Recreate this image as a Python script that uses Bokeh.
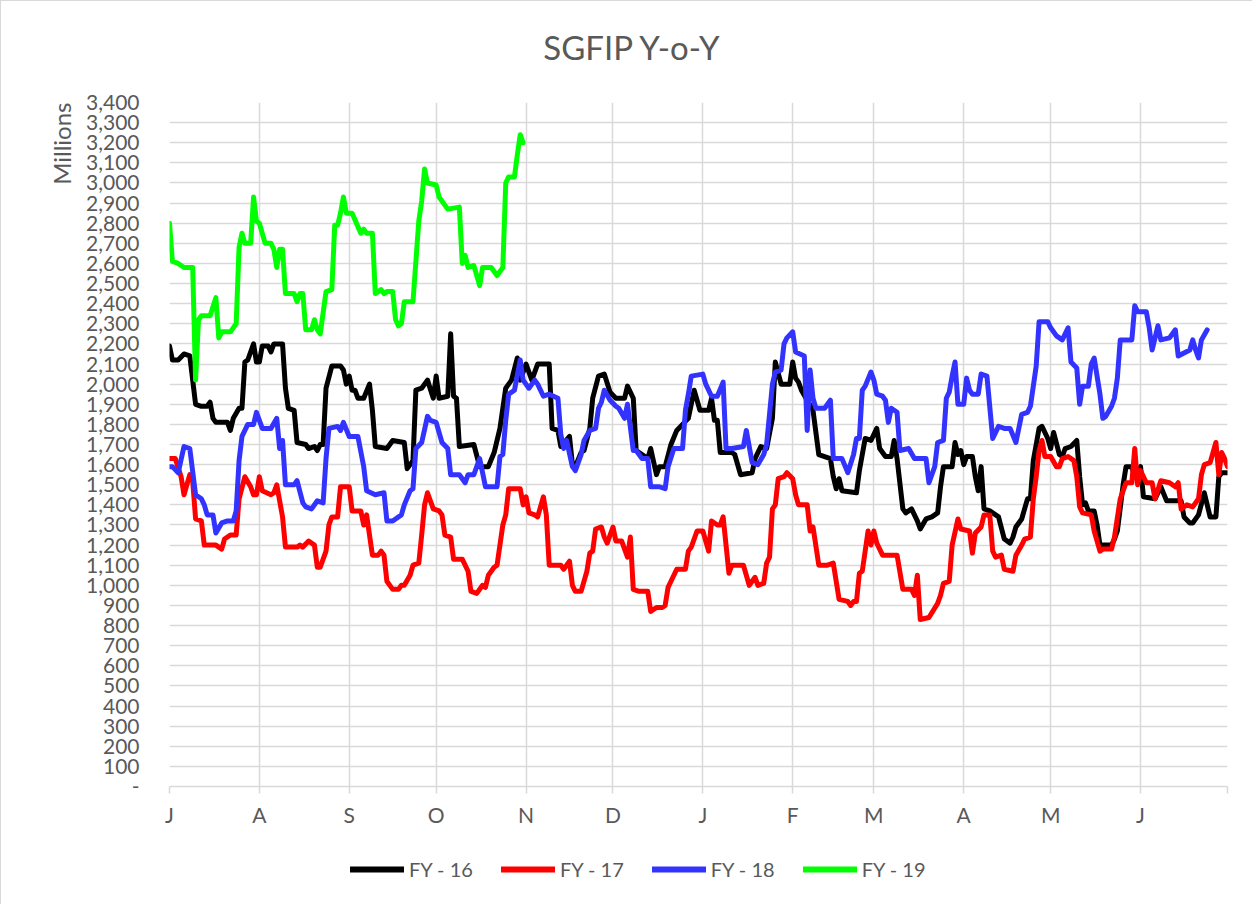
from bokeh.plotting import figure
from bokeh.layouts import column
from bokeh.models import (Range1d, FixedTicker, NumeralTickFormatter, Legend,
                          LegendItem, Title, Label)
from bokeh.embed import file_html
from bokeh.resources import INLINE

# ---------------- data (day of fiscal year, value in millions) ----------------
month_ticks = [0, 31, 62, 92, 123, 153, 184, 215, 243, 274, 304, 335, 365]
month_labels = ["J", "A", "S", "O", "N", "D", "J", "F", "M", "A", "M", "J", ""]

fy16_days = [0, 1, 3, 5, 7, 9, 11, 13, 14, 15, 16, 20, 21, 22, 24, 25, 26, 27, 29, 30,
             31, 32, 34, 35, 36, 39, 40, 41, 43, 44, 47, 48, 50, 51, 52, 53, 54, 56, 59, 60,
             61, 62, 63, 64, 65, 67, 69, 70, 71, 75, 77, 81, 82, 84, 85, 87, 89, 91, 92, 93,
             96, 97, 98, 99, 100, 105, 107, 110, 112, 114, 116, 118, 120, 121, 123, 125, 127,
             131, 132, 134, 135, 138, 139, 140, 142, 143, 145, 146, 148, 150, 152, 154, 157,
             158, 160, 161, 163, 165, 166, 168, 169, 171, 173, 175, 177, 179, 181, 183, 186,
             187, 188, 189, 190, 194, 195, 197, 201, 202, 204, 206, 208, 209, 211, 214, 215,
             216, 217, 218, 222, 224, 228, 229, 230, 231, 232, 237, 238, 240, 242, 244, 245,
             247, 249, 250, 251, 253, 254, 256, 258, 259, 261, 263, 265, 266, 267, 270, 271,
             272, 273, 274, 275, 277, 278, 279, 280, 281, 283, 286, 288, 290, 291, 292, 294,
             296, 297, 298, 300, 301, 303, 304, 305, 307, 308, 309, 311, 313, 314, 315, 316,
             317, 319, 320, 321, 324, 325, 326, 327, 329, 330, 332, 333, 335, 336, 340, 342,
             344, 349, 350, 352, 353, 355, 357, 359, 361, 362, 363, 365]
fy16_vals = [2190, 2120, 2120, 2150, 2140, 1900, 1890, 1890, 1910, 1830, 1810, 1810, 1770, 1830,
             1880, 1880, 2110, 2120, 2200, 2110, 2110, 2190, 2190, 2160, 2200, 2200, 1980, 1880,
             1870, 1710, 1700, 1680, 1690, 1670, 1700, 1700, 1980, 2090, 2090, 2070, 2000, 2040,
             1970, 1970, 1930, 1930, 2000, 1870, 1690, 1680, 1720, 1710, 1580, 1620, 1970, 1980,
             2020, 1930, 2040, 1930, 1940, 2250, 1940, 1930, 1690, 1700, 1590, 1590, 1660, 1780,
             1980, 2020, 2130, 2020, 2100, 2020, 2100, 2100, 1780, 1770, 1690, 1740, 1600, 1590,
             1660, 1670, 1780, 1930, 2040, 2050, 1960, 1930, 1930, 1990, 1930, 1670, 1650, 1630,
             1680, 1550, 1590, 1590, 1700, 1770, 1800, 1830, 1970, 1870, 1870, 1930, 1820, 1820,
             1660, 1660, 1650, 1550, 1560, 1630, 1690, 1680, 1830, 2110, 2000, 2000, 2110, 2030,
             2010, 1970, 1870, 1650, 1630, 1540, 1480, 1530, 1470, 1460, 1570, 1730, 1720, 1780,
             1680, 1640, 1640, 1720, 1630, 1380, 1360, 1380, 1320, 1280, 1330, 1340, 1360, 1490,
             1590, 1590, 1710, 1650, 1670, 1600, 1640, 1640, 1540, 1470, 1590, 1380, 1370, 1340,
             1230, 1210, 1240, 1290, 1330, 1430, 1430, 1620, 1780, 1790, 1730, 1680, 1760, 1650,
             1640, 1680, 1690, 1720, 1540, 1400, 1410, 1370, 1370, 1300, 1200, 1200, 1200, 1230,
             1270, 1500, 1590, 1590, 1540, 1590, 1440, 1430, 1490, 1420, 1420, 1340, 1310, 1310,
             1350, 1460, 1340, 1340, 1540, 1560, 1560]

fy17_days = [0, 2, 4, 5, 7, 8, 9, 11, 12, 14, 16, 18, 19, 21, 23, 24, 26, 28, 29, 30, 31, 32,
             35, 36, 37, 39, 40, 44, 45, 46, 48, 50, 51, 52, 54, 55, 56, 58, 59, 61, 62, 63,
             66, 67, 68, 70, 72, 73, 74, 75, 77, 79, 80, 81, 83, 84, 86, 87, 88, 89, 91, 93,
             94, 95, 97, 98, 101, 103, 104, 106, 108, 109, 110, 112, 113, 115, 116, 117, 121,
             122, 123, 124, 126, 127, 129, 130, 131, 135, 136, 138, 139, 140, 142, 144, 145,
             146, 147, 149, 150, 151, 153, 154, 156, 158, 159, 160, 162, 165, 166, 168, 170,
             171, 172, 174, 175, 178, 179, 180, 182, 184, 186, 187, 189, 190, 191, 193, 194,
             198, 200, 202, 203, 205, 206, 207, 208, 209, 210, 212, 213, 215, 216, 217, 220,
             221, 222, 224, 227, 229, 231, 234, 235, 236, 237, 238, 239, 241, 242, 243, 244,
             246, 248, 250, 251, 253, 256, 257, 258, 259, 262, 265, 266, 267, 269, 270, 272,
             273, 276, 277, 278, 280, 281, 283, 284, 285, 287, 288, 291, 292, 294, 295, 297,
             298, 299, 300, 301, 302, 304, 306, 307, 308, 310, 312, 313, 314, 315, 318, 319,
             321, 322, 325, 326, 328, 330, 332, 333, 334, 335, 337, 339, 340, 342, 345, 347,
             348, 349, 351, 353, 355, 356, 357, 359, 361, 362, 363, 364, 365]
fy17_vals = [1630, 1630, 1540, 1450, 1550, 1520, 1330, 1320, 1200, 1200, 1200, 1180, 1230, 1250,
             1250, 1430, 1540, 1490, 1450, 1450, 1540, 1470, 1450, 1460, 1500, 1340, 1190, 1190,
             1200, 1190, 1220, 1200, 1090, 1090, 1170, 1300, 1340, 1340, 1490, 1490, 1490, 1370,
             1370, 1300, 1350, 1150, 1150, 1170, 1150, 1020, 980, 980, 1000, 1000, 1050, 1100,
             1110, 1250, 1400, 1460, 1380, 1370, 1350, 1250, 1240, 1130, 1130, 1070, 970, 960,
             1000, 990, 1050, 1090, 1100, 1300, 1350, 1480, 1480, 1400, 1440, 1360, 1350, 1340,
             1440, 1350, 1100, 1100, 1080, 1120, 1000, 970, 970, 1070, 1160, 1170, 1280, 1290,
             1240, 1210, 1290, 1220, 1220, 1140, 1240, 980, 970, 970, 870, 890, 890, 900, 990,
             1050, 1080, 1080, 1170, 1190, 1270, 1270, 1170, 1320, 1300, 1300, 1340, 1060, 1100,
             1100, 1000, 1040, 1000, 1010, 1110, 1140, 1380, 1400, 1530, 1540, 1560, 1530, 1450,
             1400, 1400, 1270, 1290, 1100, 1100, 1110, 930, 920, 900, 920, 920, 1060, 1070, 1270,
             1200, 1270, 1210, 1150, 1150, 1150, 1150, 980, 980, 950, 1050, 830, 840, 910, 950,
             1010, 1020, 1200, 1330, 1280, 1270, 1160, 1260, 1290, 1350, 1350, 1170, 1140, 1150,
             1080, 1070, 1150, 1200, 1230, 1240, 1430, 1540, 1670, 1720, 1640, 1640, 1590, 1590,
             1630, 1640, 1620, 1540, 1390, 1360, 1350, 1270, 1170, 1180, 1180, 1240, 1430, 1510,
             1510, 1680, 1500, 1570, 1510, 1510, 1430, 1520, 1510, 1490, 1510, 1380, 1400, 1390,
             1430, 1550, 1600, 1610, 1710, 1550, 1660, 1630, 1590]

fy18_days = [0, 1, 3, 5, 7, 9, 11, 12, 13, 15, 16, 18, 20, 22, 23, 24, 25, 27, 29, 30, 32, 33,
             35, 37, 38, 39, 40, 43, 44, 46, 47, 49, 51, 53, 54, 55, 58, 59, 60, 62, 65, 67, 68,
             71, 74, 75, 77, 80, 81, 83, 84, 85, 87, 89, 90, 92, 94, 96, 97, 100, 102, 103, 105,
             107, 109, 113, 114, 115, 116, 117, 119, 121, 122, 124, 126, 127, 129, 131, 134,
             135, 136, 137, 139, 140, 142, 143, 145, 147, 148, 149, 150, 152, 154, 155, 157,
             158, 160, 161, 163, 165, 166, 169, 171, 172, 174, 177, 178, 179, 180, 184, 185,
             187, 189, 191, 192, 194, 198, 199, 201, 203, 205, 206, 208, 209, 211, 212, 213,
             215, 216, 219, 220, 221, 222, 223, 226, 228, 229, 232, 234, 236, 237, 238, 239,
             240, 242, 243, 244, 246, 247, 248, 249, 251, 252, 255, 257, 261, 262, 264, 265,
             267, 268, 269, 270, 271, 272, 274, 275, 276, 277, 279, 280, 282, 284, 286, 288,
             290, 292, 294, 296, 297, 299, 300, 303, 304, 306, 308, 310, 311, 313, 314, 315,
             317, 318, 319, 321, 322, 323, 325, 326, 327, 328, 332, 333, 334, 337, 338, 339,
             341, 342, 345, 347, 348, 352, 353, 354, 355, 356, 358]
fy18_vals = [1590, 1590, 1560, 1690, 1680, 1450, 1430, 1400, 1350, 1350, 1260, 1310, 1320, 1320,
             1370, 1620, 1740, 1800, 1800, 1860, 1780, 1780, 1780, 1830, 1680, 1720, 1500, 1500,
             1520, 1410, 1390, 1380, 1420, 1410, 1630, 1780, 1790, 1770, 1810, 1740, 1740, 1590,
             1470, 1450, 1460, 1320, 1320, 1350, 1400, 1470, 1480, 1680, 1710, 1840, 1820, 1810,
             1710, 1680, 1550, 1550, 1510, 1550, 1550, 1630, 1490, 1490, 1640, 1650, 1820, 1950,
             1970, 2120, 2020, 1980, 2020, 2000, 1940, 1950, 1930, 1750, 1680, 1720, 1590, 1570,
             1650, 1720, 1770, 1780, 1880, 1910, 1970, 1920, 1890, 1880, 1830, 1900, 1670, 1670,
             1630, 1630, 1490, 1490, 1480, 1590, 1680, 1680, 1870, 1950, 2040, 2050, 2000, 1940,
             1940, 2010, 1680, 1680, 1690, 1770, 1610, 1600, 1650, 1700, 2000, 2060, 2070, 2200,
             2230, 2260, 2160, 2140, 1770, 2070, 1930, 1880, 1880, 1920, 1630, 1630, 1560, 1650,
             1730, 1730, 1970, 1990, 2060, 2020, 1950, 1940, 1920, 1810, 1880, 1860, 1670, 1680,
             1630, 1630, 1510, 1590, 1710, 1720, 1930, 1960, 2040, 2110, 1900, 1900, 2030, 1970,
             1950, 1950, 2050, 2040, 1730, 1790, 1780, 1780, 1710, 1850, 1860, 1890, 2090, 2310,
             2310, 2280, 2240, 2220, 2280, 2110, 2080, 1900, 1990, 1990, 2100, 2130, 1950, 1830,
             1840, 1890, 1930, 2030, 2220, 2220, 2390, 2360, 2360, 2280, 2170, 2290, 2220, 2230,
             2270, 2140, 2170, 2220, 2170, 2130, 2220, 2270]

fy19_days = [0, 1, 3, 5, 8, 9, 10, 11, 14, 16, 17, 18, 21, 23, 24, 25, 26, 28, 29, 30, 31, 33,
             35, 36, 37, 38, 39, 40, 43, 44, 45, 46, 47, 49, 50, 51, 52, 54, 56, 57, 58, 59, 60,
             61, 63, 66, 67, 68, 70, 71, 73, 74, 75, 77, 78, 79, 80, 81, 84, 86, 87, 88, 89, 92,
             93, 95, 96, 100, 101, 102, 103, 105, 107, 108, 111, 113, 115, 116, 117, 119, 120,
             121, 122]
fy19_vals = [2800, 2610, 2600, 2580, 2580, 2020, 2320, 2340, 2340, 2430, 2230, 2260, 2260, 2300,
             2680, 2750, 2700, 2700, 2930, 2810, 2800, 2700, 2700, 2670, 2580, 2670, 2670, 2450,
             2450, 2410, 2450, 2450, 2270, 2270, 2320, 2270, 2250, 2460, 2470, 2790, 2790, 2850,
             2930, 2850, 2850, 2750, 2770, 2750, 2750, 2450, 2470, 2450, 2460, 2460, 2320, 2290,
             2300, 2410, 2410, 2810, 2910, 3070, 3000, 2990, 2930, 2890, 2870, 2880, 2600, 2640,
             2580, 2590, 2490, 2580, 2580, 2540, 2580, 3000, 3030, 3030, 3140, 3240, 3200]

series = [
    ("FY - 16", fy16_days, fy16_vals, "#000000"),
    ("FY - 17", fy17_days, fy17_vals, "#FF0000"),
    ("FY - 18", fy18_days, fy18_vals, "#3333FF"),
    ("FY - 19", fy19_days, fy19_vals, "#00FF00"),
]

FONT = "Lato"
GREY = "#595959"
GRID = "#d9d9d9"
W = 1252
LEFT, RIGHT = 168, 26          # frame margins shared by all stacked figures


def strip(height):
    """A bare figure whose x data units are page pixels and y units are pixels from its bottom."""
    f = figure(width=W, height=height, x_range=Range1d(LEFT, W - RIGHT),
               y_range=Range1d(0, height),
               x_axis_location=None, y_axis_location=None, toolbar_location=None,
               output_backend="svg", min_border_left=LEFT, min_border_right=RIGHT,
               min_border_top=0, min_border_bottom=0)
    f.outline_line_color = None
    f.grid.visible = False
    return f


# ---------------- title strip ----------------
tf = strip(70)
tf.add_layout(Label(x=631, y=25, text="SGFIP Y-o-Y", text_align="center",
                    text_baseline="middle", text_font=FONT, text_font_size="33px",
                    text_color=GREY))

# ---------------- main chart ----------------
p = figure(width=W, height=764, x_range=Range1d(0, 365), y_range=Range1d(0, 3400),
           output_backend="svg", toolbar_location=None,
           min_border_left=LEFT, min_border_right=RIGHT, min_border_top=31,
           min_border_bottom=49)
p.outline_line_color = None
p.background_fill_color = "white"
p.border_fill_color = "white"

# y axis
p.yaxis.ticker = FixedTicker(ticks=list(range(0, 3500, 100)))
p.yaxis.formatter = NumeralTickFormatter(format="0,0")
p.yaxis.major_label_overrides = {0: "-"}
p.yaxis.axis_line_color = None
p.yaxis.major_tick_line_color = None
p.yaxis.minor_tick_line_color = None
p.yaxis.major_label_standoff = 24
p.yaxis.major_label_text_font = FONT
p.yaxis.major_label_text_font_size = "21px"
p.yaxis.major_label_text_color = GREY

p.add_layout(Title(text="Millions", align="right", standoff=15, text_font=FONT,
                   text_font_size="24px", text_font_style="normal", text_color=GREY), "left")

# x axis
p.xaxis.ticker = FixedTicker(ticks=month_ticks)
p.xaxis.major_label_overrides = {t: lab for t, lab in zip(month_ticks, month_labels)}
p.xaxis.axis_line_color = GRID
p.xaxis.axis_line_width = 1.5
p.xaxis.major_tick_line_color = GRID
p.xaxis.major_tick_line_width = 1.5
p.xaxis.major_tick_out = 7
p.xaxis.major_tick_in = 0
p.xaxis.minor_tick_line_color = None
p.xaxis.major_label_standoff = 8
p.xaxis.major_label_text_font = FONT
p.xaxis.major_label_text_font_size = "21px"
p.xaxis.major_label_text_color = GREY

# grids
p.ygrid.ticker = FixedTicker(ticks=list(range(100, 3500, 100)))
p.xgrid.ticker = FixedTicker(ticks=month_ticks)
for g in (p.xgrid, p.ygrid):
    g.grid_line_color = GRID
    g.grid_line_width = 1.5

for name, d, v, c in series:
    p.line(d, v, line_color=c, line_width=5, line_join="round", line_cap="round")

# ---------------- legend strip ----------------
lf = strip(70)
nan = float("nan")
items = []
for name, d, v, c in series:
    # a style-only renderer (no visible points) that supplies the legend swatch
    r = lf.line([nan], [nan], line_color=c, line_width=6, line_cap="round")
    items.append(LegendItem(label=name, renderers=[r]))
legend = Legend(items=items, orientation="horizontal", location=(181, 24),
                glyph_width=54, glyph_height=24, label_standoff=5, spacing=28,
                padding=0, margin=0, border_line_color=None, background_fill_alpha=0,
                label_text_font=FONT, label_text_font_size="20px", label_text_color=GREY)
lf.add_layout(legend)

layout = column(tf, p, lf, spacing=0)
layout.styles = {"border": "1px solid #d9d9d9", "box-sizing": "border-box"}

open("out.html", "w").write(file_html(layout, INLINE))
